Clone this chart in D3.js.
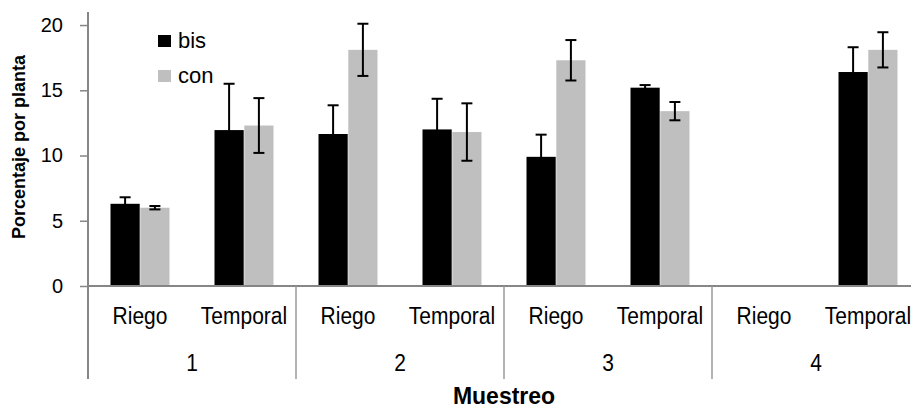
<!DOCTYPE html>
<html>
<head>
<meta charset="utf-8">
<script src="https://cdn.jsdelivr.net/npm/d3@7"></script>
<style>
  body { margin: 0; background: #fff; }
  svg { display: block; }
  text { font-family: "Liberation Sans", Arial, sans-serif; fill: #000; }
</style>
</head>
<body>
<svg id="chart" width="911" height="409"></svg>
<script>
// Sampling rounds (outer level) and plot type (inner level)
const groups = ["1", "2", "3", "4"];
const categories = ["Riego", "Temporal"];
const series = ["bis", "con"];

// Mean percentage per plant, ordered 1-Riego, 1-Temporal, 2-Riego, ... 4-Temporal
const bisValues = [6.3, 11.95, 11.65, 12.0, 9.9, 15.2, null, 16.4];
const bisErrors = [0.5, 3.55, 2.2, 2.35, 1.7, 0.2, null, 1.9];
const conValues = [6.0, 12.3, 18.1, 11.8, 17.3, 13.4, null, 18.1];
const conErrors = [0.13, 2.1, 2.0, 2.2, 1.55, 0.7, null, 1.35];

const yTicks = [0, 5, 10, 15, 20];
const seriesColors = ["#000000", "#bfbfbf"];

const axisColor = "#868686";
const svg = d3.select("#chart");

const plotLeft = 88, plotRight = 920, plotBottom = 286, plotTop = 12;
const labelRowBottom = 379;

const x0 = d3.scaleBand().domain(groups).range([plotLeft, plotRight]);
const x1 = d3.scaleBand().domain(categories).range([0, x0.bandwidth()]);
const x2 = d3.scaleBand().domain(series).range([0, 59]).paddingInner(0.02);
const y = d3.scaleLinear().domain([0, 21]).range([plotBottom, plotTop]);
const color = d3.scaleOrdinal().domain(series).range(seriesColors);

const valuesBySeries = { bis: bisValues, con: conValues };
const errorsBySeries = { bis: bisErrors, con: conErrors };

// One record per (group, category, series)
const cells = [];
groups.forEach((g, gi) => categories.forEach((c, ci) => {
  const idx = gi * categories.length + ci;
  series.forEach(s => {
    const v = valuesBySeries[s][idx];
    if (v == null) return;
    cells.push({ g, c, s, v, e: errorsBySeries[s][idx] });
  });
}));
const catCenter = d => x0(d.g) + x1(d.c) + x1.bandwidth() / 2;
const barX = d => catCenter(d) - 29.5 + x2(d.s);

// Y axis with ticks and labels
const yAxis = d3.axisLeft(y).tickValues(yTicks).tickSize(8).tickPadding(17);
const yg = svg.append("g").attr("transform", `translate(${plotLeft},0)`).call(yAxis);
yg.select(".domain").remove();
yg.selectAll(".tick line").attr("stroke", axisColor).attr("stroke-width", 1.5);
yg.selectAll(".tick text")
  .attr("fill", "#000")
  .style("font-family", '"Liberation Sans", Arial, sans-serif')
  .style("font-size", "20px");

// Bars
svg.append("g").selectAll("rect").data(cells).join("rect")
  .attr("x", barX)
  .attr("width", x2.bandwidth())
  .attr("y", d => y(d.v))
  .attr("height", d => y(0) - y(d.v))
  .attr("fill", d => color(d.s));

// Error bars
const eb = svg.append("g").attr("stroke", "#000").attr("stroke-width", 2)
  .selectAll("g").data(cells).join("g");
eb.append("line")
  .attr("x1", d => barX(d) + x2.bandwidth() / 2)
  .attr("x2", d => barX(d) + x2.bandwidth() / 2)
  .attr("y1", d => y(d.v + d.e))
  .attr("y2", d => y(d.v - d.e));
[1, -1].forEach(sign => {
  eb.append("line")
    .attr("x1", d => barX(d) + x2.bandwidth() / 2 - 5.5)
    .attr("x2", d => barX(d) + x2.bandwidth() / 2 + 5.5)
    .attr("y1", d => y(d.v + sign * d.e))
    .attr("y2", d => y(d.v + sign * d.e));
});

// Axis lines
svg.append("line")
  .attr("x1", plotLeft).attr("x2", plotLeft)
  .attr("y1", y(21)).attr("y2", labelRowBottom)
  .attr("stroke", axisColor).attr("stroke-width", 2);
svg.append("line")
  .attr("x1", plotLeft).attr("x2", plotRight)
  .attr("y1", plotBottom).attr("y2", plotBottom)
  .attr("stroke", axisColor).attr("stroke-width", 2);

// Group separators below the baseline
const bounds = groups.map(g => x0(g)).concat([plotRight]).slice(1);
svg.append("g").selectAll("line").data(bounds).join("line")
  .attr("x1", d => d).attr("x2", d => d)
  .attr("y1", plotBottom).attr("y2", labelRowBottom)
  .attr("stroke", "#9a9a9a").attr("stroke-width", 1.5);

// Category labels
const catLabels = groups.flatMap(g => categories.map(c => ({ g, c })));
svg.append("g").selectAll("text").data(catLabels).join("text")
  .attr("transform", d => `translate(${catCenter(d)},324) scale(1,1.12)`)
  .attr("text-anchor", "middle")
  .style("font-size", "21px")
  .text(d => d.c);

// Group labels
svg.append("g").selectAll("text").data(groups).join("text")
  .attr("transform", d => `translate(${x0(d) + x0.bandwidth() / 2},371) scale(1,1.12)`)
  .attr("text-anchor", "middle")
  .style("font-size", "21px")
  .text(d => d);

// Axis titles
svg.append("text")
  .attr("x", (plotLeft + plotRight) / 2).attr("y", 404)
  .attr("text-anchor", "middle")
  .style("font-size", "23px").style("font-weight", "bold")
  .text("Muestreo");
svg.append("text")
  .attr("transform", "translate(25,147) rotate(-90)")
  .attr("text-anchor", "middle")
  .style("font-size", "18px").style("font-weight", "bold")
  .text("Porcentaje por planta");

// Legend
const legend = svg.append("g").selectAll("g").data(series).join("g")
  .attr("transform", (d, i) => `translate(158,${35 + i * 35})`);
legend.append("rect").attr("width", 13).attr("height", 12).attr("fill", d => color(d));
legend.append("text").attr("x", 20).attr("y", 13).style("font-size", "22px").text(d => d);
</script>
</body>
</html>
